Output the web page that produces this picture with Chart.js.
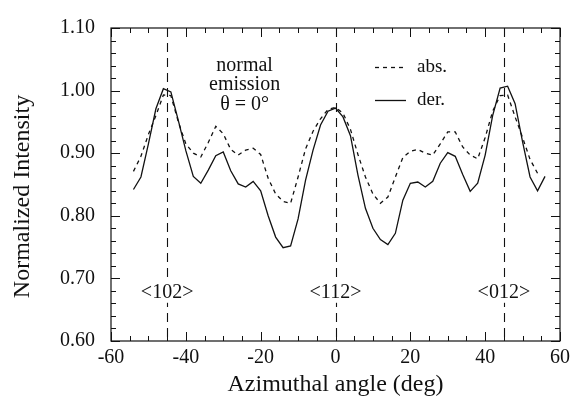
<!DOCTYPE html>
<html>
<head>
<meta charset="utf-8">
<script src="https://cdn.jsdelivr.net/npm/chart.js@4.4.0/dist/chart.umd.min.js"></script>
<style>
  html, body { margin: 0; padding: 0; background: #fff; }
  #wrap { width: 575px; height: 398px; }
  #fontWarm { position: absolute; left: -9999px; font-family: 'Liberation Serif'; }
</style>
</head>
<body>
<div id="fontWarm">0.60 -60 &lt;102&gt; normal θ = 0°</div>
<div id="wrap"><canvas id="azimuthChart"></canvas></div>
<script>
// azimuthal angle (deg) of each measured point
const angles = [-54, -52, -50, -48, -46, -44, -42, -40, -38, -36, -34, -32, -30, -28,
    -26, -24, -22, -20, -18, -16, -14, -12, -10, -8, -6, -4, -2, 0, 2, 4, 6, 8, 10, 12,
    14, 16, 18, 20, 22, 24, 26, 28, 30, 32, 34, 36, 38, 40, 42, 44, 46, 48, 50, 52, 54, 56];

// normalized intensity, dashed curve
const absValues = [0.871, 0.895, 0.930, 0.960, 0.993, 0.992, 0.950, 0.915, 0.900, 0.894,
    0.917, 0.943, 0.931, 0.906, 0.897, 0.905, 0.908, 0.898, 0.860, 0.835, 0.823, 0.820,
    0.862, 0.907, 0.935, 0.955, 0.970, 0.973, 0.964, 0.938, 0.898, 0.862, 0.835, 0.820,
    0.830, 0.862, 0.893, 0.903, 0.906, 0.900, 0.897, 0.915, 0.934, 0.934, 0.910, 0.897,
    0.891, 0.925, 0.967, 0.992, 0.993, 0.958, 0.925, 0.890, 0.868, null];

// normalized intensity, solid curve
const derValues = [0.842, 0.862, 0.915, 0.971, 1.003, 0.998, 0.952, 0.904, 0.863, 0.852,
    0.873, 0.896, 0.902, 0.872, 0.851, 0.846, 0.855, 0.840, 0.800, 0.766, 0.749, 0.752,
    0.795, 0.857, 0.905, 0.945, 0.967, 0.972, 0.958, 0.928, 0.865, 0.812, 0.780, 0.762,
    0.754, 0.772, 0.825, 0.852, 0.854, 0.846, 0.855, 0.884, 0.901, 0.895, 0.866, 0.839,
    0.852, 0.897, 0.960, 1.004, 1.007, 0.979, 0.918, 0.862, 0.840, 0.863];

// crystal directions marked by vertical dashed lines
const directionAngles = [-45, 0, 45];
const directionLabels = ['<102>', '<112>', '<012>'];

const SERIF = "'Liberation Serif', 'DejaVu Serif', serif";
const INK = '#111';

const toPoints = (values) => angles.map((a, i) => ({ x: a, y: values[i] }));

const overlay = {
    id: 'overlay',
    beforeDatasetsDraw(chart) {
        const ctx = chart.ctx;
        const { left, right, top, bottom } = chart.chartArea;
        const x = chart.scales.x;
        const y = chart.scales.y;
        ctx.save();
        ctx.strokeStyle = INK;
        ctx.lineWidth = 1.2;

        // frame
        ctx.strokeRect(left, top, right - left, bottom - top);

        // inward ticks on all four sides
        ctx.lineWidth = 1;
        ctx.beginPath();
        for (let v = 60; v <= 110; v += 2) {
            const py = Math.round(y.getPixelForValue(v / 100)) + 0.5;
            const len = v % 10 === 0 ? 9 : 5;
            ctx.moveTo(left, py);
            ctx.lineTo(left + len, py);
            ctx.moveTo(right, py);
            ctx.lineTo(right - len, py);
        }
        for (let d = -60; d <= 60; d += 5) {
            const px = Math.round(x.getPixelForValue(d)) + 0.5;
            const len = d % 20 === 0 ? 9 : 5;
            ctx.moveTo(px, bottom);
            ctx.lineTo(px, bottom - len);
            ctx.moveTo(px, top);
            ctx.lineTo(px, top + len);
        }
        ctx.stroke();

        // vertical dashed lines
        ctx.setLineDash([9, 6]);
        ctx.lineWidth = 1.1;
        directionAngles.forEach((a) => {
            const px = Math.round(x.getPixelForValue(a)) + 0.5;
            ctx.beginPath();
            ctx.moveTo(px, top);
            ctx.lineTo(px, bottom);
            ctx.stroke();
        });
        ctx.restore();
    },
    afterDatasetsDraw(chart) {
        const ctx = chart.ctx;
        const { left, right, top, bottom } = chart.chartArea;
        const x = chart.scales.x;
        const y = chart.scales.y;
        ctx.save();
        ctx.fillStyle = INK;
        ctx.textBaseline = 'middle';
        ctx.textAlign = 'center';

        // direction labels on a white patch
        ctx.font = '20px ' + SERIF;
        directionAngles.forEach((a, i) => {
            const px = x.getPixelForValue(a);
            const py = y.getPixelForValue(0.677);
            const w = ctx.measureText(directionLabels[i]).width;
            ctx.fillStyle = '#fff';
            ctx.fillRect(px - w / 2 - 2, py - 10, w + 4, 20);
            ctx.fillStyle = INK;
            ctx.fillText(directionLabels[i], px, py);
        });

        // "normal emission" note
        const noteX = x.getPixelForValue(-24.3);
        ctx.fillText('normal', noteX, y.getPixelForValue(1.040));
        ctx.fillText('emission', noteX, y.getPixelForValue(1.009));
        ctx.fillText('\u03b8 = 0\u00b0', noteX, y.getPixelForValue(0.977));

        // legend
        ctx.font = '19px ' + SERIF;
        ctx.textAlign = 'left';
        ctx.strokeStyle = INK;
        ctx.lineWidth = 1.3;
        const legendRows = [
            { text: 'abs.', value: 1.037, dash: [4, 4] },
            { text: 'der.', value: 0.985, dash: [] },
        ];
        legendRows.forEach((row) => {
            const py = Math.round(y.getPixelForValue(row.value)) + 0.5;
            ctx.setLineDash(row.dash);
            ctx.beginPath();
            ctx.moveTo(375, py);
            ctx.lineTo(406, py);
            ctx.stroke();
            ctx.fillText(row.text, 417, py);
        });
        ctx.setLineDash([]);

        // axis titles
        ctx.font = '24px ' + SERIF;
        ctx.textAlign = 'center';
        ctx.fillText('Azimuthal angle (deg)', (left + right) / 2, 385);
        ctx.translate(23, (top + bottom) / 2 + 12);
        ctx.rotate(-Math.PI / 2);
        ctx.fillText('Normalized Intensity', 0, 0);
        ctx.restore();
    },
};

const drawChart = () => {
    new Chart(document.getElementById('azimuthChart'), {
        type: 'line',
        data: {
            datasets: [
                {
                    label: 'abs.',
                    data: toPoints(absValues),
                    borderColor: INK,
                    borderWidth: 1.3,
                    borderDash: [4, 4],
                    pointRadius: 0,
                    tension: 0,
                    fill: false,
                },
                {
                    label: 'der.',
                    data: toPoints(derValues),
                    borderColor: INK,
                    borderWidth: 1.3,
                    pointRadius: 0,
                    tension: 0,
                    fill: false,
                },
            ],
        },
        options: {
            responsive: true,
            maintainAspectRatio: false,
            animation: false,
            layout: {
                padding: { top: 22, right: 11, left: 0, bottom: 0 },
            },
            plugins: {
                legend: { display: false },
                tooltip: { enabled: false },
            },
            scales: {
                x: {
                    type: 'linear',
                    min: -60,
                    max: 60,
                    grid: { display: false, drawTicks: false },
                    border: { display: false },
                    ticks: {
                        stepSize: 20,
                        padding: 5,
                        color: INK,
                        font: { family: SERIF, size: 20 },
                    },
                    afterFit: (scale) => { scale.height = 57; },
                },
                y: {
                    min: 0.6,
                    max: 1.1,
                    grid: { display: false, drawTicks: false },
                    border: { display: false },
                    ticks: {
                        stepSize: 0.1,
                        padding: 16,
                        color: INK,
                        font: { family: SERIF, size: 20 },
                        callback: (v) => Number(v).toFixed(2),
                    },
                    afterFit: (scale) => { scale.width = 111; },
                },
            },
        },
        plugins: [overlay],
    });
};

// make sure the serif face is ready before the canvas text is drawn
if (document.fonts && document.fonts.load) {
    Promise.all([
        document.fonts.load("20px 'Liberation Serif'"),
        document.fonts.load("24px 'Liberation Serif'"),
    ]).catch(() => {}).then(drawChart);
} else {
    drawChart();
}
</script>
</body>
</html>
